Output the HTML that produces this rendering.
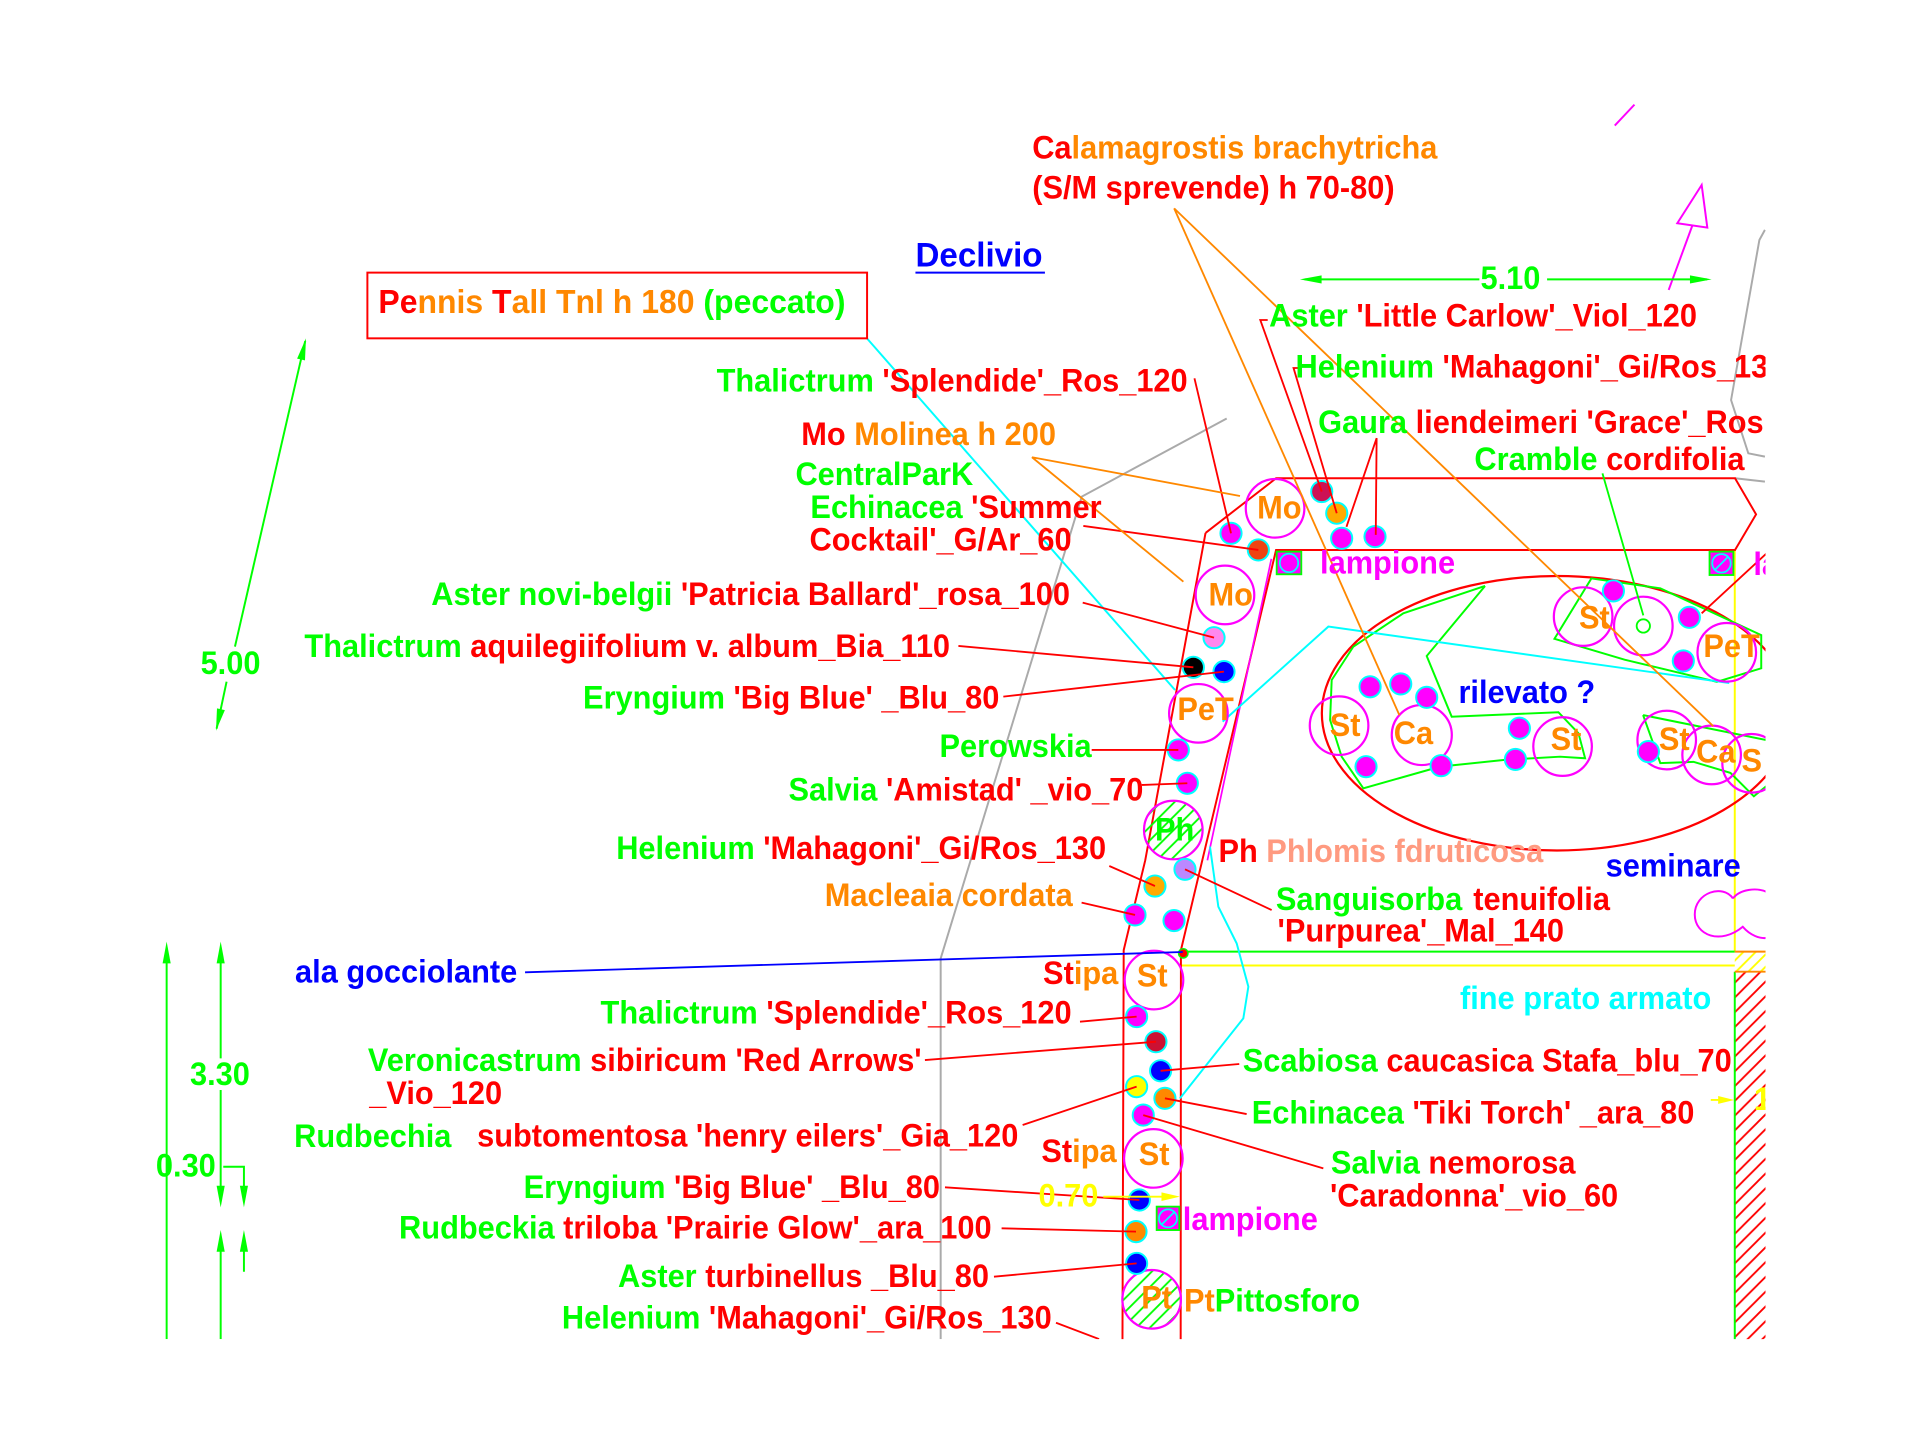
<!DOCTYPE html>
<html><head><meta charset="utf-8"><style>
html,body{margin:0;padding:0;background:#fff;}
svg{display:block;}
text{font-family:"Liberation Sans",Arial,sans-serif;font-weight:bold;font-size:26px;}
</style></head><body>
<svg width="1920" height="1440" viewBox="0 0 1560 1170" xmlns="http://www.w3.org/2000/svg">
<defs>
<pattern id="gh" patternUnits="userSpaceOnUse" width="11" height="11"><path d="M-2,2 L2,-2 M0,11 L11,0 M9,13 L13,9" stroke="#00ff00" stroke-width="1.5"/></pattern>
<pattern id="rh" patternUnits="userSpaceOnUse" width="12" height="12"><path d="M-2,2 L2,-2 M0,12 L12,0 M10,14 L14,10" stroke="#ff0000" stroke-width="1.5"/></pattern>
<pattern id="yh" patternUnits="userSpaceOnUse" width="10" height="10"><path d="M-2,2 L2,-2 M0,10 L10,0 M8,12 L12,8" stroke="#ffff00" stroke-width="1.5"/></pattern>
<clipPath id="cp"><rect x="0" y="0" width="1434.5" height="1088"/></clipPath>
</defs>
<rect width="1560" height="1170" fill="#fff"/>
<g clip-path="url(#cp)">
<!-- gray lines -->
<g fill="none" stroke="#aaaaaa" stroke-width="1.6">
<polyline points="996.7,340 878.9,403.5 764.3,778.7 764.3,1088"/>
<polyline points="1434,186.8 1429.5,195 1406.5,325 1420.5,368.3 1434,371"/>
<polyline points="1409.7,388.6 1434,391.3"/>
</g>
<!-- right area -->
<rect x="1409.5" y="789.5" width="25" height="300" fill="url(#rh)"/>
<rect x="1409.5" y="773.2" width="25" height="16.3" fill="url(#yh)"/>
<g fill="none" stroke-width="1.6">
<line x1="1409.5" y1="447" x2="1409.5" y2="773" stroke="#ffff00"/>
<line x1="1409.5" y1="789.5" x2="1409.5" y2="1090" stroke="#00ff00"/>
<line x1="960" y1="773.2" x2="1409.5" y2="773.2" stroke="#00ff00"/>
<line x1="1409.5" y1="773.2" x2="1435" y2="773.2" stroke="#ff8800"/>
<line x1="1409.5" y1="789.5" x2="1435" y2="789.5" stroke="#ff8800"/>
<line x1="960" y1="784.5" x2="1409.5" y2="784.5" stroke="#ffff00"/>
</g>
<!-- ellipse and polygons -->
<ellipse cx="1265" cy="579.5" rx="191" ry="111.5" fill="none" stroke="#ff0000" stroke-width="1.8"/>
<g fill="none" stroke="#00ff00" stroke-width="1.6">
<polyline points="1206.6,476.1 1140.2,498.3 1099.6,525.4 1082,552.5 1080.7,585 1090.1,614.8 1107.7,640.5 1170,622.9 1221.5,617.5 1267.6,614.8 1287.9,616.1 1282.5,595.8 1266.2,578.7 1179.5,582.3 1159.2,533 1206.6,476.1"/>
<polygon points="1293,470 1349,478 1431,516 1431,543 1395,554 1320,536 1263,519"/>
<polyline points="1335,581 1436,601.5"/>
<polyline points="1335,581 1349,620 1376,619 1406,628 1425,647 1436,638"/>
</g>
<!-- bed outlines -->
<g fill="none" stroke="#ff0000" stroke-width="1.6">
<polyline points="979.5,433 1036.8,388.6 1409.7,388.6 1426.8,417.9 1409.7,446.9 1036.8,446.9 959.5,772 959.3,1090"/>
<polyline points="979.5,433 930.5,699 913,772 912,1090"/>
</g>
<line x1="1033" y1="454" x2="981" y2="699" stroke="#ff00ff" stroke-width="1.4"/>
<!-- cyan lines -->
<g fill="none" stroke="#00ffff" stroke-width="1.6">
<line x1="704.5" y1="275" x2="954.7" y2="560.6"/>
<polyline points="993.4,586.3 1079.3,509.1 1405,555"/>
<polyline points="983.1,687.9 989.9,736.7 1004.8,766.5 1014.3,801.7 1010.2,827.4 958.7,892.4"/>
</g>
<!-- cloud -->
<path d="M1408,730 C1400,718 1377,725 1377,743 C1377,760 1398,768 1416,753 C1422,760 1430,763 1436,762 M1408,730 C1414,722 1428,721 1436,725" fill="none" stroke="#ff00ff" stroke-width="1.6"/>
<!-- plant circles -->
<g fill="none" stroke="#ff00ff" stroke-width="1.8">
<circle cx="1036" cy="413" r="23.8"/>
<circle cx="995.3" cy="483.4" r="23.8"/>
<circle cx="973.7" cy="579.6" r="23.8"/>
<circle cx="953.3" cy="674.4" r="23.8" fill="url(#gh)"/>
<circle cx="937.6" cy="796.3" r="23.8"/>
<circle cx="937.1" cy="941.2" r="23.8"/>
<circle cx="935.7" cy="1055.7" r="23.8" fill="url(#gh)"/>
<circle cx="1088" cy="589.6" r="23.8"/>
<circle cx="1155.2" cy="597.2" r="24.4"/>
<circle cx="1269.6" cy="606.6" r="23.8"/>
<circle cx="1286.3" cy="501" r="23.8"/>
<circle cx="1335.2" cy="508.6" r="23.8"/>
<circle cx="1403" cy="530" r="23.8"/>
<circle cx="1354.2" cy="601.3" r="23.8"/>
<circle cx="1390.7" cy="613.4" r="23.8"/>
<circle cx="1423.2" cy="620.2" r="23.8"/>
</g>
<circle cx="1335.2" cy="508.6" r="5.4" fill="none" stroke="#00ff00" stroke-width="1.5"/>
<!-- lampione squares -->
<rect x="1037.3" y="448.2" width="20" height="18.4" fill="#ff00ff" stroke="#00ff00" stroke-width="1.5"/>
<circle cx="1047.3" cy="457.4" r="7.5" fill="#ff00ff" stroke="#00ffff" stroke-width="1.4"/>
<rect x="1389" y="448.2" width="19.4" height="19" fill="#ff00ff" stroke="#00ff00" stroke-width="1.5"/>
<circle cx="1398.7" cy="457.7" r="7.5" fill="#ff00ff" stroke="#00ffff" stroke-width="1.4"/>
<line x1="1393.4" y1="463" x2="1404" y2="452.4" stroke="#00ffff" stroke-width="1.4"/>
<rect x="939.8" y="980.4" width="18.4" height="19" fill="#ff00ff" stroke="#00ff00" stroke-width="1.5"/>
<circle cx="949" cy="989.9" r="7.3" fill="#ff00ff" stroke="#00ffff" stroke-width="1.4"/>
<line x1="943.8" y1="995" x2="954.2" y2="984.7" stroke="#00ffff" stroke-width="1.4"/>
<!-- dots -->
<g stroke="#00ffff" stroke-width="1.6">
<circle cx="1000.2" cy="433.3" r="8.6" fill="#ff00ff"/>
<circle cx="1022.4" cy="446.8" r="8.6" fill="#ee4411"/>
<circle cx="1073.9" cy="399.4" r="8.6" fill="#cc1155"/>
<circle cx="1086.1" cy="417" r="8.6" fill="#ffaa00"/>
<circle cx="1090.1" cy="437.4" r="8.6" fill="#ff00ff"/>
<circle cx="1117.2" cy="436" r="8.6" fill="#ff00ff"/>
<circle cx="986.4" cy="518.1" r="8.6" fill="#ff88ee"/>
<circle cx="969.6" cy="542.2" r="8.6" fill="#000000"/>
<circle cx="994.5" cy="545.7" r="8.6" fill="#0000ff"/>
<circle cx="957.4" cy="609.3" r="8.6" fill="#ff00ff"/>
<circle cx="964.7" cy="636.4" r="8.6" fill="#ff00ff"/>
<circle cx="962.8" cy="706.3" r="8.6" fill="#bb88ff"/>
<circle cx="938.4" cy="719.9" r="8.6" fill="#ffaa00"/>
<circle cx="922.2" cy="743.4" r="8.6" fill="#ff00ff"/>
<circle cx="953.9" cy="748" r="8.6" fill="#ff00ff"/>
<circle cx="923.5" cy="826" r="8.6" fill="#ff00ff"/>
<circle cx="939.2" cy="846.4" r="8.6" fill="#cc1133"/>
<circle cx="943" cy="870" r="8.6" fill="#0000ff"/>
<circle cx="923.5" cy="882.9" r="8.6" fill="#ffff00"/>
<circle cx="946.5" cy="892.4" r="8.6" fill="#ff8800"/>
<circle cx="928.9" cy="906" r="8.6" fill="#ff00ff"/>
<circle cx="925.7" cy="975" r="8.6" fill="#0000ff"/>
<circle cx="923" cy="1000.7" r="8.6" fill="#ff8800"/>
<circle cx="923.5" cy="1026.5" r="8.6" fill="#0000ff"/>
<circle cx="1113.2" cy="558" r="8.6" fill="#ff00ff"/>
<circle cx="1138.1" cy="555.7" r="8.6" fill="#ff00ff"/>
<circle cx="1159.2" cy="566.6" r="8.6" fill="#ff00ff"/>
<circle cx="1109.9" cy="622.9" r="8.6" fill="#ff00ff"/>
<circle cx="1170.9" cy="622.1" r="8.6" fill="#ff00ff"/>
<circle cx="1234.5" cy="591.7" r="8.6" fill="#ff00ff"/>
<circle cx="1231.3" cy="617" r="8.6" fill="#ff00ff"/>
<circle cx="1310.9" cy="480.1" r="8.6" fill="#ff00ff"/>
<circle cx="1372.6" cy="501.6" r="8.6" fill="#ff00ff"/>
<circle cx="1367.7" cy="537" r="8.6" fill="#ff00ff"/>
<circle cx="1339.3" cy="610.7" r="8.6" fill="#ff00ff"/>
</g>
<circle cx="961.4" cy="774.6" r="3.8" fill="#ff0000" stroke="#00ff00" stroke-width="1.2"/>
<!-- leaders -->
<g fill="none" stroke="#ff0000" stroke-width="1.5">
<line x1="970.5" y1="307.4" x2="1000.2" y2="433.3"/>
<polyline points="1030,260 1024,260 1073.9,399.4"/>
<polyline points="1057,299 1051,299 1086.1,417"/>
<polyline points="1094,428 1118.5,356 1117.8,434.6"/>
<line x1="880.2" y1="427.3" x2="1022.4" y2="446.8"/>
<line x1="879.7" y1="489.6" x2="986.4" y2="518.1"/>
<line x1="778.7" y1="524.8" x2="969.6" y2="542.2"/>
<line x1="815.2" y1="566" x2="994.5" y2="545.7"/>
<line x1="887" y1="609.3" x2="957.4" y2="609.3"/>
<line x1="927.6" y1="637.8" x2="964.7" y2="636.4"/>
<line x1="901.3" y1="703.6" x2="938.4" y2="719.9"/>
<line x1="878.8" y1="733.4" x2="922.2" y2="743.4"/>
<line x1="1033.2" y1="739.4" x2="962.8" y2="706.3"/>
<line x1="877.5" y1="830.1" x2="923.5" y2="826"/>
<line x1="751.5" y1="861.3" x2="939.2" y2="846.4"/>
<line x1="830.9" y1="914.1" x2="923.5" y2="882.9"/>
<line x1="1006.9" y1="864.5" x2="943" y2="870"/>
<line x1="1012.9" y1="905.2" x2="946.5" y2="892.4"/>
<line x1="1075.2" y1="949.3" x2="928.9" y2="906"/>
<line x1="767.8" y1="964.7" x2="925.7" y2="975"/>
<line x1="813.8" y1="998" x2="923" y2="1000.7"/>
<line x1="807.6" y1="1037.3" x2="923.5" y2="1026.5"/>
<line x1="858" y1="1074.7" x2="893" y2="1088"/>
<line x1="1382.6" y1="498.3" x2="1436" y2="449"/>
</g>
<line x1="1302" y1="384.6" x2="1335.2" y2="500" stroke="#00ff00" stroke-width="1.5"/>
<g fill="none" stroke="#ff8800" stroke-width="1.5">
<polyline points="1007.5,403 838.5,371.5 961.5,472.6"/>
<line x1="954" y1="169.3" x2="1392" y2="590"/>
<line x1="954" y1="169.3" x2="1137" y2="581"/>
</g>
<line x1="426.6" y1="790" x2="961" y2="773.5" stroke="#0000ff" stroke-width="1.5"/>
<!-- magenta arrow -->
<g fill="none" stroke="#ff00ff" stroke-width="1.6">
<line x1="1355.8" y1="235.6" x2="1375" y2="183.3"/>
<polygon points="1382.6,150.3 1362.8,181.4 1387.2,184.9"/>
<line x1="1312" y1="102" x2="1328" y2="85"/>
</g>
<!-- dimensions -->
<g stroke="#00ff00" stroke-width="1.6" fill="#00ff00">
<line x1="1060" y1="227" x2="1202" y2="227"/>
<line x1="1257" y1="227" x2="1387" y2="227"/>
<polygon points="1056.2,227 1073.8,223.7 1073.8,230.3" stroke="none"/>
<polygon points="1390.7,227 1373.1,223.7 1373.1,230.3" stroke="none"/>
<line x1="248" y1="277" x2="190.9" y2="525.4"/>
<line x1="184.1" y1="553.9" x2="176" y2="592"/>
<polygon points="248.6,274.9 247.8,292.8 241.4,291.4" stroke="none"/>
<polygon points="175.5,593.7 182.7,577 176.3,575.6" stroke="none"/>
<line x1="135.4" y1="770" x2="135.4" y2="1088"/>
<polygon points="135.4,765.1 132.1,782.7 138.7,782.7" stroke="none"/>
<line x1="179.3" y1="770" x2="179.3" y2="859.9"/>
<line x1="179.3" y1="885.6" x2="179.3" y2="976"/>
<polygon points="179.3,765.1 176,782.7 182.6,782.7" stroke="none"/>
<polygon points="179.3,981 176,963.4 182.6,963.4" stroke="none"/>
<polygon points="179.3,999.4 176,1017 182.6,1017" stroke="none"/>
<line x1="179.3" y1="1005" x2="179.3" y2="1088"/>
<polyline points="181.4,948 198.2,948 198.2,976" fill="none"/>
<polygon points="198.2,981 194.9,963.4 201.5,963.4" stroke="none"/>
<polygon points="198.2,999.4 194.9,1017 201.5,1017" stroke="none"/>
<line x1="198.2" y1="1005" x2="198.2" y2="1033.3"/>
</g>
<g stroke="#ffff00" stroke-width="1.6" fill="#ffff00">
<line x1="896.4" y1="972.3" x2="950" y2="972.3"/>
<polygon points="958.7,972.3 943.7,968.8 943.7,975.8" stroke="none"/>
<line x1="1390" y1="893.7" x2="1402" y2="893.7"/>
<polygon points="1409,893.7 1396,890.5 1396,896.9" stroke="none"/>
</g>
<line x1="743.8" y1="221.5" x2="849" y2="221.5" stroke="#0000ff" stroke-width="1.6"/>
<rect x="298.5" y="221.5" width="406" height="53.4" fill="none" stroke="#ff0000" stroke-width="1.6"/>
<!-- texts (horizontally condensed) -->
<g transform="scale(0.962,1)">
<text x="871.8" y="128.6"><tspan fill="#ff0000">Ca</tspan><tspan fill="#ff8800">lamagrostis brachytricha</tspan></text>
<text x="871.8" y="161.1" fill="#ff0000">(S/M sprevende) h 70-80)</text>
<text x="773.2" y="216.7" fill="#0000ff" style="font-size:28px">Declivio</text>
<text x="319.6" y="254.5" style="font-size:27px"><tspan fill="#ff0000">Pe</tspan><tspan fill="#ff8800">nnis </tspan><tspan fill="#ff0000">T</tspan><tspan fill="#ff8800">all Tnl h 180 </tspan><tspan fill="#00ff00">(peccato)</tspan></text>
<text x="1250.4" y="235" fill="#00ff00">5.10</text>
<text x="1071.9" y="265.4"><tspan fill="#00ff00">Aster </tspan><tspan fill="#ff0000">'Little Carlow'_Viol_120</tspan></text>
<text x="1094.2" y="306.8"><tspan fill="#00ff00">Helenium </tspan><tspan fill="#ff0000">'Mahagoni'_Gi/Ros_130</tspan></text>
<text x="1113.3" y="352"><tspan fill="#00ff00">Gaura </tspan><tspan fill="#ff0000">liendeimeri 'Grace'_Ros</tspan></text>
<text x="1245.3" y="382"><tspan fill="#00ff00">Cramble </tspan><tspan fill="#ff0000">cordifolia</tspan></text>
<text x="1003.1" y="318.2" text-anchor="end"><tspan fill="#00ff00">Thalictrum </tspan><tspan fill="#ff0000">'Splendide'_Ros_120</tspan></text>
<text x="891.9" y="361.6" text-anchor="end"><tspan fill="#ff0000">Mo </tspan><tspan fill="#ff8800">Molinea h 200</tspan></text>
<text x="822" y="394" text-anchor="end" fill="#00ff00">CentralParK</text>
<text x="930.4" y="421" text-anchor="end"><tspan fill="#00ff00">Echinacea </tspan><tspan fill="#ff0000">'Summer</tspan></text>
<text x="905.1" y="447.4" text-anchor="end" fill="#ff0000">Cocktail'_G/Ar_60</text>
<text x="903.7" y="491.5" text-anchor="end"><tspan fill="#00ff00">Aster novi-belgii </tspan><tspan fill="#ff0000">'Patricia Ballard'_rosa_100</tspan></text>
<text x="802.4" y="534" text-anchor="end"><tspan fill="#00ff00">Thalictrum </tspan><tspan fill="#ff0000">aquilegiifolium v. album_Bia_110</tspan></text>
<text x="844.1" y="575.5" text-anchor="end"><tspan fill="#00ff00">Eryngium </tspan><tspan fill="#ff0000">'Big Blue' _Blu_80</tspan></text>
<text x="922" y="615" text-anchor="end" fill="#00ff00">Perowskia</text>
<text x="965.7" y="650.5" text-anchor="end"><tspan fill="#00ff00">Salvia </tspan><tspan fill="#ff0000">'Amistad' _vio_70</tspan></text>
<text x="934.2" y="698" text-anchor="end"><tspan fill="#00ff00">Helenium </tspan><tspan fill="#ff0000">'Mahagoni'_Gi/Ros_130</tspan></text>
<text x="906" y="736.2" text-anchor="end" fill="#ff8800">Macleaia cordata</text>
<text x="249.2" y="798.4" fill="#0000ff">ala gocciolante</text>
<text x="944.5" y="799.5" text-anchor="end"><tspan fill="#ff0000">St</tspan><tspan fill="#ff8800">ipa</tspan></text>
<text x="905.1" y="831.5" text-anchor="end"><tspan fill="#00ff00">Thalictrum </tspan><tspan fill="#ff0000">'Splendide'_Ros_120</tspan></text>
<text x="778.4" y="870" text-anchor="end"><tspan fill="#00ff00">Veronicastrum </tspan><tspan fill="#ff0000">sibiricum 'Red Arrows'</tspan></text>
<text x="311.9" y="897" fill="#ff0000">_Vio_120</text>
<text x="248.4" y="932" fill="#00ff00">Rudbechia</text>
<text x="860.1" y="931.5" text-anchor="end" fill="#ff0000">subtomentosa 'henry eilers'_Gia_120</text>
<text x="943.1" y="944" text-anchor="end"><tspan fill="#ff0000">St</tspan><tspan fill="#ff8800">ipa</tspan></text>
<text x="927.7" y="980.4" text-anchor="end" fill="#ffff00">0.70</text>
<text x="793.9" y="973.5" text-anchor="end"><tspan fill="#00ff00">Eryngium </tspan><tspan fill="#ff0000">'Big Blue' _Blu_80</tspan></text>
<text x="837.5" y="1006.3" text-anchor="end"><tspan fill="#00ff00">Rudbeckia </tspan><tspan fill="#ff0000">triloba 'Prairie Glow'_ara_100</tspan></text>
<text x="835.3" y="1045.5" text-anchor="end"><tspan fill="#00ff00">Aster </tspan><tspan fill="#ff0000">turbinellus _Blu_80</tspan></text>
<text x="888.3" y="1079.4" text-anchor="end"><tspan fill="#00ff00">Helenium </tspan><tspan fill="#ff0000">'Mahagoni'_Gi/Ros_130</tspan></text>
<text x="1029.1" y="700.5"><tspan fill="#ff0000">Ph </tspan><tspan fill="#ff9a80">Phlomis fdruticosa</tspan></text>
<text x="1077.6" y="739.4" fill="#00ff00">Sanguisorba</text>
<text x="1244.3" y="739.4" fill="#ff0000">tenuifolia</text>
<text x="1079" y="765.1" fill="#ff0000">'Purpurea'_Mal_140</text>
<text x="1049.6" y="870.7"><tspan fill="#00ff00">Scabiosa </tspan><tspan fill="#ff0000">caucasica Stafa_blu_70</tspan></text>
<text x="1057.2" y="912.7"><tspan fill="#00ff00">Echinacea </tspan><tspan fill="#ff0000">'Tiki Torch' _ara_80</tspan></text>
<text x="1124.1" y="953.4"><tspan fill="#00ff00">Salvia </tspan><tspan fill="#ff0000">nemorosa</tspan></text>
<text x="1123.3" y="980.4" fill="#ff0000">'Caradonna'_vio_60</text>
<text x="999" y="999.4" fill="#ff00ff">lampione</text>
<text x="1000" y="1065.5"><tspan fill="#ff8800">Pt</tspan><tspan fill="#00ff00">Pittosforo</tspan></text>
<text x="1114.9" y="465.8" fill="#ff00ff">lampione</text>
<text x="1480.9" y="467.2" fill="#ff00ff">lampione</text>
<text x="1231.8" y="571.4" fill="#0000ff">rilevato ?</text>
<text x="1356.1" y="712.3" fill="#0000ff">seminare</text>
<text x="1233.1" y="820" fill="#00ffff">fine prato armato</text>
<text x="1481.3" y="902" fill="#ffff00">1</text>
<text x="169.4" y="547.6" fill="#00ff00">5.00</text>
<text x="160.5" y="881.6" fill="#00ff00">3.30</text>
<text x="131.7" y="956" fill="#00ff00">0.30</text>
<g text-anchor="middle" fill="#ff8800">
<text x="1080.5" y="421.1">Mo</text>
<text x="1039.5" y="492.1">Mo</text>
<text x="1018.2" y="585">PeT</text>
<text x="992.1" y="683" fill="#00ff00">Ph</text>
<text x="973.2" y="801.7">St</text>
<text x="974.8" y="946.6">St</text>
<text x="976.9" y="1063">Pt</text>
<text x="1136.1" y="598">St</text>
<text x="1193.8" y="604.7">Ca</text>
<text x="1322.6" y="609.3">St</text>
<text x="1346.6" y="510.5">St</text>
<text x="1414.1" y="609.4">St</text>
<text x="1449.2" y="619.7">Ca</text>
</g>
<text x="1438.7" y="534" fill="#ff8800">PeT</text>
<text x="1470.9" y="627" fill="#ff8800">S</text>
</g>
</g>
</svg>
</body></html>
